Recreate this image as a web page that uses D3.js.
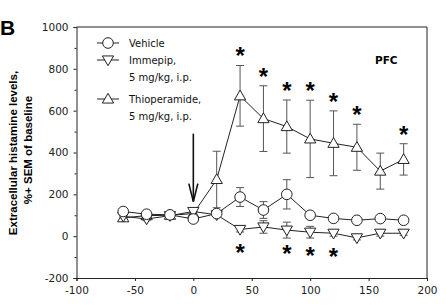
<!DOCTYPE html>
<html>
<head>
<meta charset="utf-8">
<script src="https://cdn.jsdelivr.net/npm/d3@7"></script>
<style>
body{margin:0;background:#fff;}
</style>
</head>
<body>
<div id="container"></div>
<script>
let w=446;
let h=306;

// minutes after injection
let times=[-60,-40,-20,0,20,40,60,80,100,120,140,160,180];
let vehicle=[118,105,102,82,108,187,125,200,100,85,76,84,76];
let vehicleSem=[8,6,6,8,10,45,40,70,8,6,6,6,6];
let immepip=[95,82,98,118,102,32,44,29,19,14,-8,14,14];
let immepipSem=[8,8,6,8,8,12,30,38,28,14,10,14,10];
let thio=[88,98,100,108,271,671,562,524,465,444,425,311,367];
let thioSem=[10,8,6,10,135,145,157,127,185,155,110,86,75];
let thioStars=[40,60,80,100,120,140,180];
let immepipStars=[40,80,100,120];
let xTicks=[-100,-50,0,50,100,150,200];
let yTicks=[-200,0,200,400,600,800,1000];

let x=d3.scaleLinear().domain([-100,200]).range([76.5,427]);
let y=d3.scaleLinear().domain([-200,1000]).range([278,27]);

let viz=d3.select("#container")
  .append("svg")
  .attr("width",w)
  .attr("height",h)
  .style("font-family","'DejaVu Sans', Verdana, sans-serif");

// box
viz.append("path")
  .attr("d","M"+x(-100)+","+y(1000)+"H"+x(200)+"V"+y(-200))
  .attr("fill","none")
  .attr("stroke","#222")
  .attr("stroke-width",1);

let plain=function(d){return String(d);};
let xAxis=viz.append("g")
  .attr("transform","translate(0,"+y(-200)+")")
  .call(d3.axisBottom(x).tickValues(xTicks).tickSize(3).tickPadding(6).tickFormat(plain));
let yAxis=viz.append("g")
  .attr("transform","translate("+x(-100)+",0)")
  .call(d3.axisLeft(y).tickValues(yTicks).tickSize(3).tickPadding(5).tickFormat(plain));
// minor y ticks
viz.append("g")
  .attr("transform","translate("+x(-100)+",0)")
  .call(d3.axisLeft(y).tickValues(d3.range(-100,1000,200)).tickSize(2).tickFormat(""))
  .select(".domain").remove();
viz.selectAll(".tick text")
  .attr("font-size",10.5)
  .attr("font-family","'DejaVu Sans', Verdana, sans-serif")
  .attr("fill","#222");
viz.selectAll(".domain, .tick line").attr("stroke","#222");

// y label
viz.append("text")
  .attr("transform","translate(17,153) rotate(-90)")
  .attr("text-anchor","middle")
  .attr("font-family","'Liberation Sans', Arial, sans-serif")
  .attr("font-weight","bold")
  .attr("font-size",11.5)
  .text("Extracellular histamine levels,");
viz.append("text")
  .attr("transform","translate(32,150) rotate(-90)")
  .attr("text-anchor","middle")
  .attr("font-family","'Liberation Sans', Arial, sans-serif")
  .attr("font-weight","bold")
  .attr("font-size",11.5)
  .text("%+ SEM of baseline");

viz.append("text")
  .attr("x",0).attr("y",35)
  .attr("font-family","'Liberation Sans', Arial, sans-serif")
  .attr("font-weight","bold")
  .attr("font-size",21)
  .text("B");

viz.append("text")
  .attr("x",375).attr("y",64)
  .attr("font-weight","bold")
  .attr("font-size",10.5)
  .text("PFC");

// arrow at injection
let arrow=viz.append("g").attr("stroke","#111").attr("stroke-width",1.6).attr("fill","none");
arrow.append("line")
  .attr("x1",x(0)).attr("x2",x(0))
  .attr("y1",y(490)).attr("y2",y(165));
arrow.append("path")
  .attr("d","M"+(x(0)-4.5)+","+(y(165)-18)+"L"+x(0)+","+y(165)+"L"+(x(0)+4.5)+","+(y(165)-18));

let tri=d3.symbol().type(d3.symbolTriangle).size(55);

function drawSeries(vals,sem,shape){
  let pts=times.map(function(t,i){return {t:t,v:vals[i],s:sem[i]};});
  let g=viz.append("g");
  let bars=g.selectAll(".err").data(pts).enter().append("g").attr("stroke","#555").attr("stroke-width",1);
  bars.append("line")
    .attr("x1",function(d){return x(d.t);}).attr("x2",function(d){return x(d.t);})
    .attr("y1",function(d){return y(d.v+d.s);}).attr("y2",function(d){return y(d.v-d.s);});
  bars.append("line")
    .attr("x1",function(d){return x(d.t)-4;}).attr("x2",function(d){return x(d.t)+4;})
    .attr("y1",function(d){return y(d.v+d.s);}).attr("y2",function(d){return y(d.v+d.s);});
  bars.append("line")
    .attr("x1",function(d){return x(d.t)-4;}).attr("x2",function(d){return x(d.t)+4;})
    .attr("y1",function(d){return y(d.v-d.s);}).attr("y2",function(d){return y(d.v-d.s);});
  g.append("path")
    .datum(pts)
    .attr("d",d3.line().x(function(d){return x(d.t);}).y(function(d){return y(d.v);}))
    .attr("fill","none")
    .attr("stroke","#222")
    .attr("stroke-width",1);
  drawMarkers(g,pts.map(function(d){return [x(d.t),y(d.v)];}),shape);
  return pts;
}
function drawMarkers(g,xy,shape){
  if(shape=="circle"){
    g.selectAll(".m").data(xy).enter().append("circle")
      .attr("cx",function(d){return d[0];}).attr("cy",function(d){return d[1];})
      .attr("r",5.3)
      .attr("fill","white").attr("stroke","#222").attr("stroke-width",1);
  }else{
    g.selectAll(".m").data(xy).enter().append("path")
      .attr("d",tri)
      .attr("transform",function(d){
        return "translate("+d[0]+","+(d[1]+(shape=="down"?-0.8:0.8))+")"+(shape=="down"?" rotate(180)":"");
      })
      .attr("fill","white").attr("stroke","#222").attr("stroke-width",1);
  }
}

let thioPts=drawSeries(thio,thioSem,"up");
let immPts=drawSeries(immepip,immepipSem,"down");
let vehPts=drawSeries(vehicle,vehicleSem,"circle");

// significance
viz.selectAll(".starT").data(thioPts.filter(function(d){return thioStars.indexOf(d.t)>=0;})).enter()
  .append("text")
  .attr("x",function(d){return x(d.t);})
  .attr("y",function(d){return y(d.v+d.s)-14+13;})
  .attr("text-anchor","middle")
  .attr("font-family","'Liberation Sans', Arial, sans-serif")
  .attr("font-weight","bold")
  .attr("font-size",24)
  .text("*");
viz.selectAll(".starI").data(immPts.filter(function(d){return immepipStars.indexOf(d.t)>=0;})).enter()
  .append("text")
  .attr("x",function(d){return x(d.t);})
  .attr("y",function(d){return y(d.v)+19+13;})
  .attr("text-anchor","middle")
  .attr("font-family","'Liberation Sans', Arial, sans-serif")
  .attr("font-weight","bold")
  .attr("font-size",24)
  .text("*");

// legend
let legend=[
  {shape:"circle",y:43,lines:["Vehicle"]},
  {shape:"down",y:60,lines:["Immepip,","5 mg/kg, i.p."]},
  {shape:"up",y:99,lines:["Thioperamide,","5 mg/kg, i.p."]}
];
legend.forEach(function(l){
  let g=viz.append("g");
  g.append("line").attr("x1",97).attr("x2",119).attr("y1",l.y).attr("y2",l.y).attr("stroke","#222");
  drawMarkers(g,[[108,l.y]],l.shape);
  l.lines.forEach(function(s,i){
    g.append("text").attr("x",129).attr("y",l.y+4+i*17)
      .attr("font-size",10)
      .attr("fill","#111")
      .text(s);
  });
});
</script>
</body>
</html>
